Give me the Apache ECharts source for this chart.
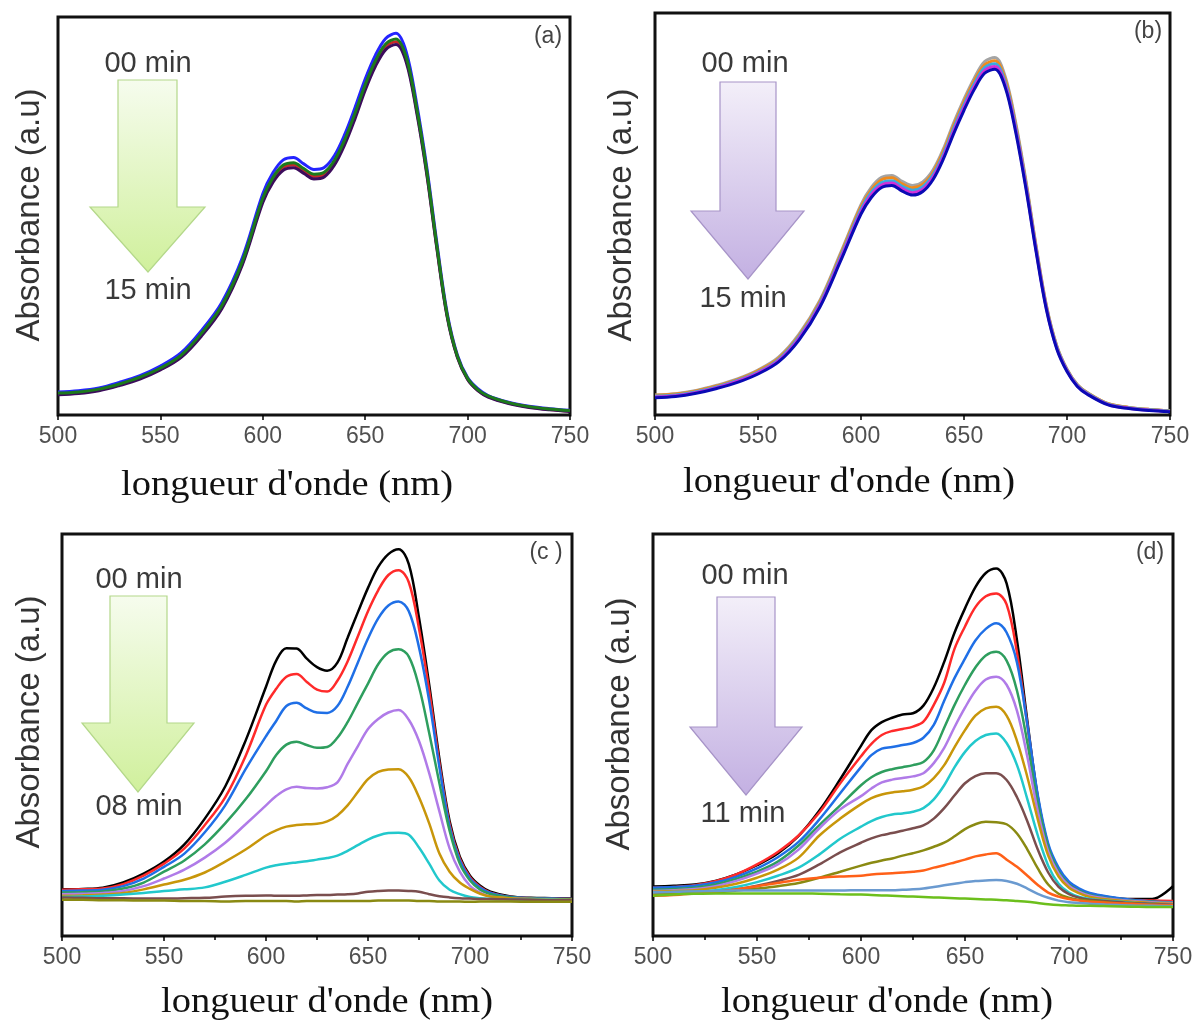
<!DOCTYPE html>
<html>
<head>
<meta charset="utf-8">
<script src="https://cdn.jsdelivr.net/npm/echarts@6/dist/echarts.min.js"></script>
<style>
html,body{margin:0;padding:0;background:#fff;}
#chart{width:1198px;height:1024px;}
</style>
</head>
<body>
<div id="chart"></div>
<script>
// wavelength grid (nm)
const WL = [500,510,520,530,540,550,560,570,580,590,600,605,610,615,620,625,630,635,640,645,650,655,660,665,670,675,680,685,690,695,700,705,710,720,730,740,750];
const X_TICKS = [500,550,600,650,700,750];

// Panel (a): 00 -> 15 min, curves nearly superimposed
const A_BLUE   = [0.058,0.061,0.068,0.082,0.099,0.123,0.156,0.212,0.283,0.395,0.556,0.609,0.641,0.647,0.631,0.617,0.622,0.652,0.705,0.772,0.844,0.904,0.946,0.959,0.913,0.786,0.625,0.432,0.257,0.151,0.094,0.066,0.049,0.032,0.022,0.016,0.012];
const A_RED    = [0.053,0.056,0.063,0.076,0.093,0.115,0.147,0.201,0.271,0.381,0.540,0.591,0.622,0.628,0.613,0.599,0.604,0.634,0.686,0.751,0.823,0.883,0.925,0.938,0.894,0.770,0.611,0.421,0.250,0.146,0.090,0.062,0.046,0.030,0.020,0.014,0.010];
const A_PURPLE = [0.051,0.054,0.061,0.074,0.090,0.113,0.144,0.198,0.267,0.377,0.534,0.585,0.615,0.621,0.607,0.593,0.598,0.628,0.679,0.744,0.816,0.876,0.918,0.931,0.887,0.764,0.607,0.418,0.247,0.145,0.089,0.061,0.045,0.029,0.019,0.013,0.009];
const A_GREEN  = [0.055,0.058,0.065,0.078,0.095,0.118,0.150,0.205,0.275,0.386,0.545,0.597,0.628,0.634,0.619,0.605,0.610,0.640,0.692,0.758,0.830,0.890,0.932,0.945,0.900,0.775,0.616,0.425,0.252,0.148,0.092,0.064,0.048,0.031,0.021,0.015,0.011];

// Panel (b): 00 -> 15 min
const B_GRAY      = [0.050,0.053,0.061,0.074,0.090,0.112,0.144,0.202,0.285,0.402,0.523,0.566,0.591,0.596,0.581,0.571,0.580,0.610,0.662,0.727,0.786,0.838,0.879,0.889,0.842,0.730,0.585,0.421,0.273,0.173,0.114,0.076,0.055,0.028,0.019,0.014,0.011];
const B_ORANGE    = [0.049,0.052,0.060,0.072,0.088,0.110,0.141,0.198,0.281,0.398,0.518,0.560,0.585,0.590,0.575,0.565,0.574,0.604,0.656,0.720,0.779,0.831,0.871,0.881,0.835,0.724,0.580,0.418,0.271,0.172,0.113,0.075,0.055,0.028,0.019,0.014,0.011];
const B_LIGHTBLUE = [0.047,0.050,0.058,0.070,0.086,0.107,0.138,0.195,0.277,0.393,0.512,0.554,0.578,0.583,0.569,0.559,0.568,0.598,0.649,0.713,0.772,0.824,0.864,0.874,0.828,0.718,0.575,0.414,0.268,0.170,0.112,0.074,0.054,0.027,0.018,0.013,0.010];
const B_MAGENTA   = [0.045,0.048,0.056,0.068,0.084,0.105,0.135,0.191,0.273,0.388,0.506,0.548,0.572,0.577,0.563,0.553,0.562,0.592,0.643,0.706,0.765,0.817,0.857,0.867,0.821,0.712,0.570,0.410,0.265,0.167,0.110,0.072,0.052,0.026,0.017,0.012,0.009];
const B_BLUE      = [0.043,0.046,0.054,0.066,0.081,0.102,0.132,0.187,0.268,0.382,0.500,0.541,0.566,0.571,0.557,0.547,0.556,0.586,0.637,0.700,0.758,0.810,0.850,0.860,0.815,0.706,0.565,0.406,0.262,0.165,0.108,0.071,0.051,0.025,0.016,0.011,0.008];

// Panel (c): 00 -> 08 min
const C_00 = [0.116,0.117,0.120,0.133,0.155,0.185,0.228,0.292,0.372,0.486,0.620,0.685,0.716,0.715,0.690,0.669,0.660,0.680,0.742,0.805,0.866,0.918,0.950,0.962,0.925,0.792,0.625,0.441,0.286,0.197,0.150,0.125,0.110,0.098,0.095,0.094,0.093];
const C_01 = [0.115,0.116,0.118,0.129,0.150,0.180,0.218,0.276,0.345,0.448,0.575,0.615,0.645,0.652,0.632,0.613,0.608,0.635,0.683,0.745,0.808,0.860,0.898,0.910,0.880,0.765,0.610,0.430,0.278,0.192,0.146,0.122,0.108,0.097,0.094,0.093,0.092];
const C_02 = [0.112,0.113,0.115,0.124,0.143,0.172,0.205,0.258,0.325,0.415,0.497,0.535,0.572,0.580,0.566,0.556,0.555,0.572,0.620,0.680,0.740,0.790,0.822,0.832,0.808,0.718,0.585,0.420,0.272,0.188,0.143,0.120,0.107,0.097,0.094,0.093,0.092];
const C_03 = [0.108,0.109,0.111,0.118,0.133,0.160,0.188,0.228,0.280,0.340,0.410,0.450,0.476,0.483,0.475,0.468,0.470,0.493,0.532,0.580,0.628,0.676,0.705,0.713,0.695,0.620,0.505,0.380,0.262,0.180,0.138,0.115,0.104,0.096,0.093,0.092,0.091];
const C_04 = [0.104,0.105,0.107,0.112,0.124,0.143,0.165,0.195,0.232,0.278,0.325,0.348,0.365,0.371,0.368,0.367,0.370,0.382,0.428,0.472,0.515,0.540,0.556,0.562,0.538,0.485,0.405,0.310,0.218,0.160,0.125,0.108,0.098,0.094,0.092,0.090,0.087];
const C_05 = [0.100,0.101,0.103,0.107,0.116,0.128,0.140,0.158,0.185,0.215,0.250,0.263,0.272,0.276,0.278,0.279,0.285,0.300,0.325,0.358,0.390,0.408,0.414,0.415,0.395,0.345,0.280,0.205,0.160,0.133,0.117,0.105,0.098,0.094,0.092,0.091,0.090];
const C_06 = [0.097,0.098,0.100,0.103,0.107,0.112,0.116,0.121,0.135,0.152,0.170,0.176,0.180,0.183,0.186,0.190,0.194,0.200,0.212,0.226,0.240,0.250,0.256,0.257,0.252,0.220,0.180,0.138,0.115,0.104,0.097,0.094,0.092,0.091,0.090,0.090,0.089];
const C_07 = [0.096,0.095,0.094,0.094,0.093,0.093,0.094,0.095,0.098,0.100,0.101,0.100,0.100,0.100,0.101,0.102,0.102,0.103,0.104,0.106,0.110,0.112,0.113,0.113,0.112,0.110,0.104,0.099,0.096,0.094,0.093,0.092,0.092,0.091,0.090,0.089,0.089];
const C_08 = [0.090,0.090,0.089,0.089,0.088,0.088,0.087,0.087,0.086,0.087,0.087,0.087,0.087,0.086,0.087,0.087,0.087,0.087,0.087,0.087,0.087,0.088,0.088,0.088,0.088,0.087,0.087,0.086,0.086,0.086,0.085,0.086,0.086,0.086,0.085,0.085,0.085];

// Panel (d): 00 -> 11 min
const D_00 = [0.123,0.125,0.128,0.137,0.153,0.176,0.205,0.249,0.312,0.390,0.473,0.512,0.532,0.543,0.551,0.554,0.573,0.618,0.682,0.755,0.815,0.868,0.903,0.914,0.877,0.735,0.534,0.346,0.224,0.163,0.130,0.115,0.105,0.096,0.092,0.092,0.124];
const D_01 = [0.120,0.122,0.126,0.136,0.153,0.178,0.209,0.250,0.307,0.380,0.447,0.478,0.500,0.510,0.515,0.521,0.533,0.575,0.630,0.715,0.770,0.818,0.845,0.852,0.825,0.705,0.525,0.340,0.220,0.162,0.128,0.113,0.103,0.095,0.090,0.088,0.087];
const D_02 = [0.120,0.122,0.125,0.133,0.147,0.168,0.196,0.234,0.290,0.355,0.420,0.450,0.466,0.470,0.475,0.480,0.493,0.525,0.585,0.642,0.690,0.735,0.764,0.778,0.755,0.680,0.525,0.350,0.230,0.170,0.135,0.118,0.107,0.097,0.090,0.086,0.084];
const D_03 = [0.115,0.117,0.120,0.128,0.142,0.160,0.185,0.225,0.276,0.325,0.375,0.395,0.408,0.415,0.420,0.425,0.433,0.462,0.518,0.575,0.625,0.668,0.698,0.707,0.685,0.610,0.480,0.330,0.220,0.160,0.128,0.112,0.102,0.093,0.088,0.085,0.083];
const D_04 = [0.112,0.114,0.117,0.124,0.137,0.155,0.178,0.215,0.268,0.315,0.348,0.367,0.382,0.389,0.393,0.397,0.405,0.430,0.468,0.520,0.568,0.610,0.638,0.645,0.625,0.560,0.445,0.310,0.210,0.155,0.125,0.110,0.100,0.092,0.087,0.084,0.082];
const D_05 = [0.110,0.112,0.114,0.120,0.130,0.145,0.165,0.195,0.250,0.292,0.328,0.343,0.352,0.357,0.360,0.364,0.372,0.393,0.425,0.470,0.512,0.548,0.566,0.570,0.548,0.485,0.395,0.290,0.200,0.148,0.120,0.106,0.097,0.090,0.085,0.082,0.080];
const D_06 = [0.108,0.109,0.110,0.114,0.122,0.134,0.150,0.170,0.203,0.242,0.272,0.286,0.296,0.302,0.305,0.309,0.318,0.340,0.375,0.420,0.458,0.485,0.500,0.504,0.480,0.425,0.340,0.250,0.175,0.130,0.108,0.097,0.092,0.087,0.083,0.080,0.078];
const D_07 = [0.106,0.107,0.108,0.110,0.116,0.125,0.137,0.152,0.178,0.208,0.232,0.243,0.251,0.256,0.262,0.268,0.275,0.292,0.318,0.350,0.380,0.398,0.405,0.405,0.388,0.345,0.285,0.215,0.158,0.122,0.104,0.095,0.090,0.086,0.082,0.080,0.078];
const D_08 = [0.105,0.106,0.107,0.109,0.113,0.118,0.124,0.132,0.145,0.160,0.175,0.182,0.188,0.193,0.200,0.206,0.213,0.222,0.232,0.248,0.266,0.278,0.284,0.283,0.278,0.255,0.215,0.168,0.128,0.105,0.095,0.090,0.087,0.083,0.080,0.078,0.076];
const D_09 = [0.100,0.102,0.106,0.110,0.116,0.124,0.132,0.140,0.145,0.148,0.150,0.153,0.155,0.156,0.158,0.160,0.163,0.170,0.176,0.183,0.190,0.198,0.203,0.206,0.190,0.172,0.150,0.127,0.108,0.098,0.092,0.088,0.085,0.082,0.080,0.078,0.077];
const D_10 = [0.108,0.110,0.111,0.112,0.113,0.113,0.113,0.113,0.113,0.113,0.114,0.114,0.114,0.114,0.115,0.116,0.118,0.122,0.126,0.130,0.134,0.137,0.138,0.139,0.137,0.130,0.118,0.105,0.095,0.088,0.084,0.082,0.080,0.078,0.076,0.075,0.074];
const D_11 = [0.100,0.103,0.105,0.106,0.106,0.106,0.106,0.106,0.105,0.104,0.103,0.102,0.101,0.100,0.099,0.098,0.097,0.096,0.095,0.094,0.093,0.092,0.091,0.090,0.089,0.087,0.085,0.082,0.079,0.077,0.076,0.075,0.075,0.074,0.073,0.072,0.072];

const PANEL_A = [[A_BLUE,'#2424ff'],[A_RED,'#c82828'],[A_PURPLE,'#3c0c5c'],[A_GREEN,'#1c7a1c']];
const PANEL_B = [[B_GRAY,'#a4a4a4'],[B_ORANGE,'#f08a1c'],[B_LIGHTBLUE,'#3aa8e0'],[B_MAGENTA,'#d030d8'],[B_BLUE,'#0a0ab4']];
const SERIES_COLORS = ['#000000','#ff2a2a','#1f6fe6','#2e9e5e','#b07be8','#c8960a','#22c8cc','#7a4e4e','#8a8a12','#ff6018','#6a9ad0','#6cbf1c'];
const PANEL_C = [C_00,C_01,C_02,C_03,C_04,C_05,C_06,C_07,C_08].map((v,i)=>[v,SERIES_COLORS[i]]);
const PANEL_D = [D_00,D_01,D_02,D_03,D_04,D_05,D_06,D_07,D_08,D_09,D_10,D_11].map((v,i)=>[v,SERIES_COLORS[i]]);

const GRIDS = [
  {left:58, top:17, width:512, height:398},
  {left:655, top:13, width:515, height:402},
  {left:62, top:534, width:510, height:402},
  {left:653, top:534, width:520, height:402}
];

const chart = echarts.init(document.getElementById('chart'), null, {renderer:'canvas'});

function lineSeries(gi, values, color, width){
  return {
    type:'line', xAxisIndex:gi, yAxisIndex:gi,
    data: WL.map((w,i)=>[w, values[i]]),
    showSymbol:false, symbol:'none', smooth:0.35, silent:true,
    lineStyle:{color:color, width:width}, itemStyle:{color:color},
    animation:false
  };
}

const series = [];
PANEL_A.forEach(p=>series.push(lineSeries(0,p[0],p[1],3)));
PANEL_B.forEach(p=>series.push(lineSeries(1,p[0],p[1],3)));
PANEL_C.forEach(p=>series.push(lineSeries(2,p[0],p[1],2.5)));
PANEL_D.forEach(p=>series.push(lineSeries(3,p[0],p[1],2.5)));

const xAxes = GRIDS.map((g,i)=>({
  gridIndex:i, type:'value', min:500, max:750, interval:50,
  axisLine:{show:false},
  axisTick:{show:true, inside:false, length:5, lineStyle:{color:'#000', width:1.5}},
  minorTick:{show:i>=2, splitNumber:2, length:4, lineStyle:{color:'#000', width:1.5}},
  splitLine:{show:false}, minorSplitLine:{show:false},
  axisLabel:{fontSize:23, color:'#505050', margin:10, fontFamily:'Liberation Sans, Arial, sans-serif',
    formatter: v => X_TICKS.includes(v) ? String(v) : ''}
}));
const yAxes = GRIDS.map((g,i)=>({
  gridIndex:i, type:'value', min:0, max:1,
  axisLine:{show:false}, axisTick:{show:false}, axisLabel:{show:false}, splitLine:{show:false}
}));

function txt(x, y, text, size, family, color, extra){
  return Object.assign({
    type:'text', x:x, y:y, silent:true,
    style:{text:text, x:0, y:0, fontSize:size, fontFamily:family, fill:color,
      textAlign:'center', textVerticalAlign:'middle', align:'center', verticalAlign:'middle'}
  }, extra||{});
}
const SANS = 'Liberation Sans, Arial, sans-serif';
const SERIF = 'Liberation Serif, Times New Roman, serif';

function arrow(pts, c0, c1, stroke){
  return {type:'polygon', silent:true, shape:{points:pts},
    style:{fill:{type:'linear', x:0, y:0, x2:0, y2:1, colorStops:[{offset:0,color:c0},{offset:1,color:c1}]},
      stroke:stroke, lineWidth:1.2}};
}

const graphics = [
  arrow([[118,80],[177,80],[177,207],[205,207],[148,272],[90,207],[118,207]], '#f6fcee', '#d0f09c', '#b4d88a'),
  arrow([[720,82],[776,82],[776,211],[804,211],[748,279],[691,211],[720,211]], '#f3eff9', '#c3b0e2', '#a794c8'),
  arrow([[110,596],[167,596],[167,723],[194,723],[138,792],[82,723],[110,723]], '#f6fcee', '#d0f09c', '#b4d88a'),
  arrow([[717,597],[775,597],[775,727],[802,727],[746,795],[690,727],[717,727]], '#f3eff9', '#c3b0e2', '#a794c8'),
  txt(148,64,'00 min',29,SANS,'#3a3a3a'),
  txt(148,291,'15 min',29,SANS,'#3a3a3a'),
  txt(745,64,'00 min',29,SANS,'#3a3a3a'),
  txt(743,299,'15 min',29,SANS,'#3a3a3a'),
  txt(139,580,'00 min',29,SANS,'#3a3a3a'),
  txt(139,807,'08 min',29,SANS,'#3a3a3a'),
  txt(745,576,'00 min',29,SANS,'#3a3a3a'),
  txt(743,814,'11 min',29,SANS,'#3a3a3a'),
  txt(548,37,'(a)',23,SANS,'#444'),
  txt(1148,32,'(b)',23,SANS,'#444'),
  txt(546,553,'(c )',23,SANS,'#444'),
  txt(1150,553,'(d)',23,SANS,'#444'),
  txt(30,215,'Absorbance (a.u)',33,SANS,'#333',{rotation:Math.PI/2}),
  txt(622,215,'Absorbance (a.u)',33,SANS,'#333',{rotation:Math.PI/2}),
  txt(30,722,'Absorbance (a.u)',33,SANS,'#333',{rotation:Math.PI/2}),
  txt(620,724,'Absorbance (a.u)',33,SANS,'#333',{rotation:Math.PI/2}),
  txt(287,486,"longueur d'onde (nm)",35,SERIF,'#111',{scaleX:1.1}),
  txt(849,483,"longueur d'onde (nm)",35,SERIF,'#111',{scaleX:1.1}),
  txt(327,1003,"longueur d'onde (nm)",35,SERIF,'#111',{scaleX:1.1}),
  txt(887,1003,"longueur d'onde (nm)",35,SERIF,'#111',{scaleX:1.1})
];

chart.setOption({
  animation:false,
  backgroundColor:'#ffffff',
  grid: GRIDS.map(g=>Object.assign({show:true, borderColor:'#111', borderWidth:3, backgroundColor:'#fff', containLabel:false}, g)),
  xAxis: xAxes,
  yAxis: yAxes,
  series: series,
  graphic: graphics
});
</script>
</body>
</html>
